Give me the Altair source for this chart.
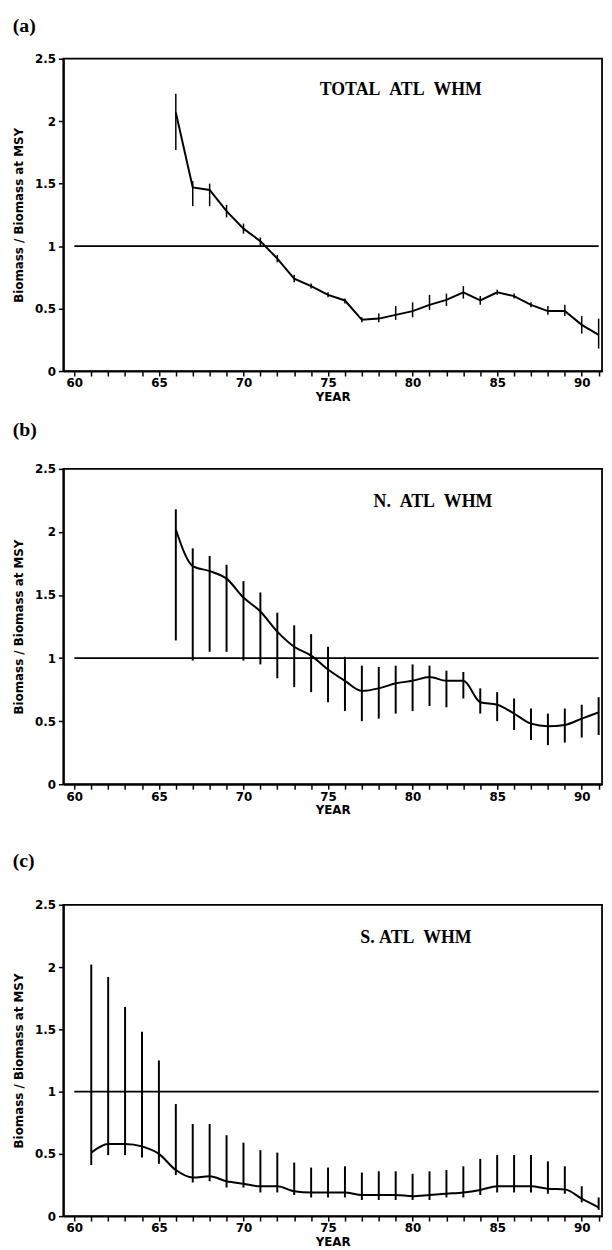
import altair as alt
import pandas as pd

# ---------------- data ----------------
years_a = list(range(66, 92))
ratio_a = [2.07, 1.47, 1.45, 1.28, 1.14, 1.04, 0.90, 0.74, 0.68, 0.61, 0.565, 0.41, 0.42,
           0.45, 0.48, 0.53, 0.57, 0.63, 0.565, 0.63, 0.60, 0.53, 0.48, 0.48, 0.37, 0.29]
lo_a = [1.77, 1.32, 1.32, 1.23, 1.10, 1.00, 0.87, 0.71, 0.66, 0.59, 0.54, 0.39, 0.39,
        0.41, 0.43, 0.49, 0.52, 0.58, 0.53, 0.61, 0.58, 0.51, 0.45, 0.44, 0.30, 0.18]
hi_a = [2.22, 1.52, 1.50, 1.33, 1.18, 1.07, 0.93, 0.77, 0.70, 0.63, 0.58, 0.43, 0.46,
        0.52, 0.55, 0.61, 0.62, 0.68, 0.60, 0.65, 0.62, 0.55, 0.52, 0.53, 0.44, 0.42]

years_b = list(range(66, 92))
ratio_b = [2.02, 1.73, 1.69, 1.63, 1.48, 1.37, 1.21, 1.09, 1.02, 0.91, 0.82, 0.74, 0.76,
           0.80, 0.82, 0.85, 0.82, 0.82, 0.65, 0.63, 0.56, 0.48, 0.46, 0.47, 0.52, 0.57]
hi_b = [2.18, 1.87, 1.81, 1.74, 1.61, 1.52, 1.36, 1.26, 1.19, 1.09, 1.01, 0.94, 0.93,
        0.94, 0.95, 0.94, 0.90, 0.89, 0.76, 0.73, 0.68, 0.60, 0.56, 0.60, 0.63, 0.69]
lo_b = [1.14, 0.98, 1.05, 1.05, 0.98, 0.95, 0.84, 0.77, 0.73, 0.65, 0.58, 0.50, 0.52,
        0.56, 0.58, 0.62, 0.61, 0.68, 0.56, 0.50, 0.43, 0.35, 0.31, 0.33, 0.37, 0.39]

years_c = list(range(61, 92))
ratio_c = [0.51, 0.58, 0.58, 0.56, 0.50, 0.37, 0.31, 0.32, 0.28, 0.26, 0.24, 0.24, 0.20,
           0.19, 0.19, 0.19, 0.17, 0.17, 0.17, 0.16, 0.17, 0.18, 0.19, 0.21, 0.24, 0.24,
           0.24, 0.22, 0.215, 0.14, 0.07]
hi_c = [2.02, 1.92, 1.68, 1.48, 1.25, 0.90, 0.74, 0.74, 0.65, 0.59, 0.53, 0.51, 0.43,
        0.39, 0.39, 0.40, 0.35, 0.36, 0.36, 0.34, 0.36, 0.37, 0.40, 0.46, 0.49, 0.49,
        0.49, 0.44, 0.40, 0.24, 0.15]
lo_c = [0.41, 0.49, 0.49, 0.47, 0.42, 0.33, 0.27, 0.28, 0.23, 0.23, 0.19, 0.19, 0.17,
        0.15, 0.15, 0.15, 0.13, 0.13, 0.13, 0.13, 0.13, 0.15, 0.15, 0.17, 0.19, 0.19,
        0.19, 0.18, 0.18, 0.11, 0.05]

panel_labels = ["(a)", "(b)", "(c)"]
stock_names = ["TOTAL\u00a0\u00a0ATL\u00a0\u00a0WHM", "N.\u00a0\u00a0ATL\u00a0\u00a0WHM",
               "S.\u00a0ATL\u00a0\u00a0WHM"]
name_year = [79.3, 81.2, 80.2]
name_value = [2.25, 2.24, 2.23]
msy_line_years = [60, 91]
msy_line_value = 1.0
year_ticks = list(range(60, 92))
ratio_ticks = [0, 0.5, 1, 1.5, 2, 2.5]

X_DOMAIN = [59.35, 91.2]
Y_DOMAIN = [0, 2.5]
PLOT_W = 545
LABEL_FONT = "DejaVu Sans"
SERIF = "Liberation Serif"
Y_TITLE = "Biomass / Biomass at MSY"


def xs(field):
    return alt.X(field, scale=alt.Scale(domain=X_DOMAIN, nice=False, zero=False),
                 axis=alt.Axis(values=year_ticks, title="YEAR", grid=False,
                               labelOverlap=False, labelFlush=False,
                               labelExpr="datum.value % 5 == 0 ? datum.label : ''"))


def ys(field):
    return alt.Y(field, scale=alt.Scale(domain=Y_DOMAIN, nice=False),
                 axis=alt.Axis(values=ratio_ticks, format="~g", title=Y_TITLE, grid=False,
                               labelOverlap=False, labelFlush=False))


def panel(label, name, nyear, nval, years, ratio, lo, hi, height, offset, interp, bar_w):
    df = pd.DataFrame({"year": years, "ratio": ratio, "lo": lo, "hi": hi})
    base = alt.Chart(df)
    bars = base.mark_rule(color="black", strokeWidth=bar_w).encode(
        x=xs("year:Q"), y=ys("lo:Q"), y2="hi:Q")
    line = base.mark_line(color="black", strokeWidth=2, interpolate=interp).encode(
        x=xs("year:Q"), y=ys("ratio:Q"))
    ref = alt.Chart(pd.DataFrame({"x1": [msy_line_years[0]], "x2": [msy_line_years[1]],
                                  "v": [msy_line_value]})).mark_rule(
        color="black", strokeWidth=1.6).encode(x=xs("x1:Q"), x2="x2:Q", y=ys("v:Q"))
    txt = alt.Chart(pd.DataFrame({"year": [nyear], "v": [nval], "t": [name]})).mark_text(
        font=SERIF, fontSize=18, fontWeight="bold", color="black", align="center",
        baseline="middle").encode(x=xs("year:Q"), y=ys("v:Q"), text="t:N")
    return alt.layer(ref, bars, line, txt).properties(
        width=PLOT_W, height=height,
        title=alt.TitleParams(text=label, anchor="start", frame="bounds", font=SERIF,
                              fontSize=20, fontWeight="bold", color="black",
                              offset=offset))


pa = panel(panel_labels[0], stock_names[0], name_year[0], name_value[0],
           years_a, ratio_a, lo_a, hi_a, 316, 17, "linear", 1.5)
pb = panel(panel_labels[1], stock_names[1], name_year[1], name_value[1],
           years_b, ratio_b, lo_b, hi_b, 319, 23, "monotone", 2)
pc = panel(panel_labels[2], stock_names[2], name_year[2], name_value[2],
           years_c, ratio_c, lo_c, hi_c, 315, 28, "monotone", 2)

chart = alt.vconcat(alt.vconcat(pa, pb, spacing=16), pc, spacing=34).properties(
    padding={"left": 3, "top": 0, "right": 0, "bottom": 0}
).configure_view(stroke="black", strokeWidth=1.8).configure_axis(
    domainColor="black", domainWidth=2, tickColor="black", tickWidth=1.5, tickSize=5,
    labelFont=LABEL_FONT, labelFontWeight="bold", labelFontSize=12, labelColor="black",
    labelPadding=3, titleFont=LABEL_FONT, titleFontWeight="bold", titleFontSize=12,
    titleColor="black"
).configure_axisY(titlePadding=9).configure_axisX(titlePadding=3, labelPadding=2)

chart.save("out.html", embed_options={"renderer": "svg", "actions": False})
